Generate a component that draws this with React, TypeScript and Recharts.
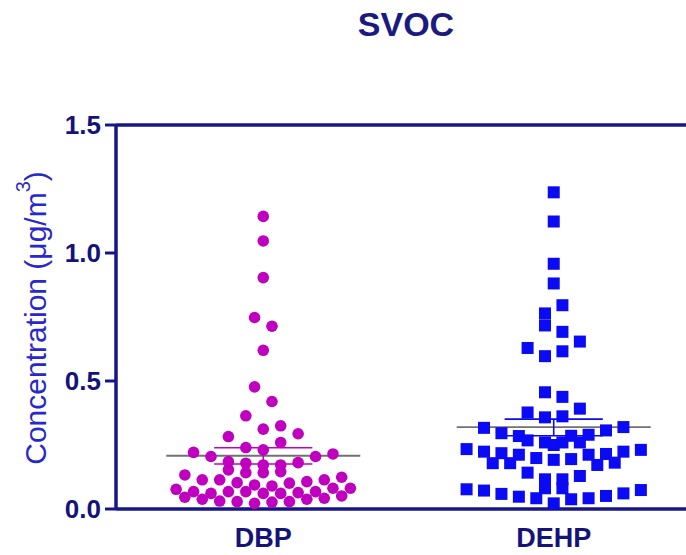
import React from "react";
import {
  ScatterChart,
  Scatter,
  XAxis,
  YAxis,
  ReferenceLine,
  Label,
} from "recharts";

// ---------- data ----------
const categories = ["DBP", "DEHP"];
const yTicks = [0, 0.5, 1.0, 1.5];

// swarm column offsets (in marker half-steps) and concentrations
const dbpOffsets = [
  0, 0, 0, -1, 1, 0, -1, 1, -2, 0, 2, -4, 4, 2, -2, 0, -8, -6, 6, 8,
  -4, -2, 0, 2, 4, -4, -2, 0, 2, -9, -7, -5, -3, 5, 7, 9, -10, -1, 1, 3,
  10, -8, -6, -4, -2, 0, 2, 4, 6, 8, -9, -7, -5, -3, -1, 1, 3, 5, 7, 9,
];
const dbpValues = [
  1.143, 1.047, 0.904, 0.748, 0.714, 0.62, 0.477, 0.42, 0.364, 0.312,
  0.325, 0.283, 0.294, 0.26, 0.24, 0.231, 0.221, 0.205, 0.205, 0.215,
  0.185, 0.179, 0.172, 0.172, 0.181, 0.153, 0.142, 0.142, 0.146, 0.133,
  0.114, 0.114, 0.103, 0.107, 0.114, 0.124, 0.077, 0.094, 0.09, 0.101,
  0.081, 0.068, 0.061, 0.068, 0.068, 0.061, 0.061, 0.064, 0.068, 0.081,
  0.046, 0.038, 0.031, 0.029, 0.022, 0.027, 0.029, 0.038, 0.042, 0.051,
];

const dehpOffsets = [
  0, 0, 0, 0, 1, -1, -1, 1, 3, -3, -1, 1, -1, 1, -3, 3, -1, 1, -8, 8,
  6, -6, -4, 4, 2, -3, -1, 1, 3, -10, -8, -6, -4, -2, 0, 2, 4, 6, 8, 10,
  -7, -5, 5, 7, -3, -1, 1, 3, -1, 1, -10, -8, -6, -4, -2, 0, 2, 4, 6, 8,
  10, 0,
];
const dehpValues = [
  1.237, 1.123, 0.958, 0.881, 0.796, 0.764, 0.717, 0.692, 0.654, 0.629,
  0.597, 0.616, 0.456, 0.438, 0.377, 0.392, 0.358, 0.362, 0.317, 0.32,
  0.307, 0.296, 0.285, 0.29, 0.286, 0.268, 0.26, 0.26, 0.26, 0.234,
  0.224, 0.218, 0.212, 0.199, 0.192, 0.195, 0.212, 0.215, 0.224, 0.231,
  0.179, 0.179, 0.172, 0.181, 0.142, 0.116, 0.116, 0.129, 0.081, 0.081,
  0.077, 0.072, 0.059, 0.048, 0.042, 0.022, 0.038, 0.042, 0.051, 0.061,
  0.074, 0.25,
];

// mean and SEM (upper / lower)
const means = [0.208, 0.32];
const semUpper = [0.239, 0.351];
const semLower = [0.176, 0.286];

// ---------- style ----------
const NAVY = "#16168a";
const DBP_COLOR = "#bf00bf";
const DEHP_COLOR = "#0a0af5";
const FONT = "'Liberation Sans', Arial, Helvetica, sans-serif";
const STEP = 0.03; // swarm half-step in x units
const MEAN_HALF = 0.334;
const SEM_HALF = 0.169;

const build = (idx: number, offs: number[], vals: number[]) =>
  vals.map((v, i) => ({ x: idx + offs[i] * STEP, y: v }));

const dbpData = build(1, dbpOffsets, dbpValues);
const dehpData = build(2, dehpOffsets, dehpValues);

const Circle = (p: any) => (
  <circle cx={p.cx} cy={p.cy} r={5.8} fill={DBP_COLOR} />
);
const Square = (p: any) => (
  <rect x={p.cx - 6} y={p.cy - 6} width={12} height={12} fill={DEHP_COLOR} />
);

const YLabel = () => (
  <text
    transform="translate(35,318) rotate(-90)"
    textAnchor="middle"
    dominantBaseline="central"
    fontFamily={FONT}
    fontSize={30}
    fill="#2828cc"
  >
    Concentration (μg/m
    <tspan fontSize={20} dy={-12}>3</tspan>
    <tspan dy={12}>)</tspan>
  </text>
);

const colorFor = [DBP_COLOR, DEHP_COLOR];

export default function App() {
  return (
    <div
      style={{
        position: "absolute",
        left: 0,
        top: 0,
        width: 686,
        height: 555,
        overflow: "hidden",
        background: "#fff",
      }}
    >
      <div
        style={{
          position: "absolute",
          left: 306,
          top: 7,
          width: 200,
          textAlign: "center",
          fontFamily: FONT,
          fontWeight: "bold",
          fontSize: 34,
          lineHeight: "34px",
          color: "#1a1a80",
        }}
      >
        SVOC
      </div>
      <ScatterChart
        width={730}
        height={555}
        margin={{ top: 125, right: 2, bottom: 6, left: 36 }}
      >
        <XAxis
          type="number"
          dataKey="x"
          domain={[0.493, 2.6]}
          ticks={[1, 2]}
          tickFormatter={(v: number) => categories[Math.round(v) - 1]}
          height={40}
          tickLine={false}
          tickSize={0}
          tickMargin={19}
          axisLine={{ stroke: NAVY, strokeWidth: 3.5 }}
          tick={{ fill: "#13137a", fontSize: 27, fontWeight: "bold", fontFamily: FONT }}
        />
        <YAxis
          type="number"
          dataKey="y"
          domain={[0, 1.5]}
          ticks={yTicks}
          tickFormatter={(v: number) => v.toFixed(1)}
          width={80}
          tickSize={11}
          tickMargin={4}
          tickLine={{ stroke: NAVY, strokeWidth: 3 }}
          axisLine={{ stroke: NAVY, strokeWidth: 3.5 }}
          tick={{ fill: "#13137a", fontSize: 26, fontWeight: "bold", fontFamily: FONT }}
        >
          <Label content={<YLabel />} />
        </YAxis>
        <ReferenceLine y={1.5} stroke={NAVY} strokeWidth={3.5} />
        <Scatter data={dbpData} shape={<Circle />} isAnimationActive={false} />
        <Scatter data={dehpData} shape={<Square />} isAnimationActive={false} />
        {means.map((m, i) => (
          <ReferenceLine
            key={"m" + i}
            segment={[
              { x: i + 1 - MEAN_HALF, y: m },
              { x: i + 1 + MEAN_HALF, y: m },
            ]}
            stroke="#707070"
            strokeWidth={1.8}
          />
        ))}
        {means.map((m, i) => (
          <ReferenceLine
            key={"su" + i}
            segment={[
              { x: i + 1 - SEM_HALF, y: semUpper[i] },
              { x: i + 1 + SEM_HALF, y: semUpper[i] },
            ]}
            stroke={colorFor[i]}
            strokeWidth={1.6}
          />
        ))}
        {means.map((m, i) => (
          <ReferenceLine
            key={"sl" + i}
            segment={[
              { x: i + 1 - SEM_HALF, y: semLower[i] },
              { x: i + 1 + SEM_HALF, y: semLower[i] },
            ]}
            stroke={colorFor[i]}
            strokeWidth={1.6}
          />
        ))}
        {means.map((m, i) => (
          <ReferenceLine
            key={"sv" + i}
            segment={[
              { x: i + 1, y: semLower[i] },
              { x: i + 1, y: semUpper[i] },
            ]}
            stroke={colorFor[i]}
            strokeWidth={1.6}
          />
        ))}
      </ScatterChart>
    </div>
  );
}
